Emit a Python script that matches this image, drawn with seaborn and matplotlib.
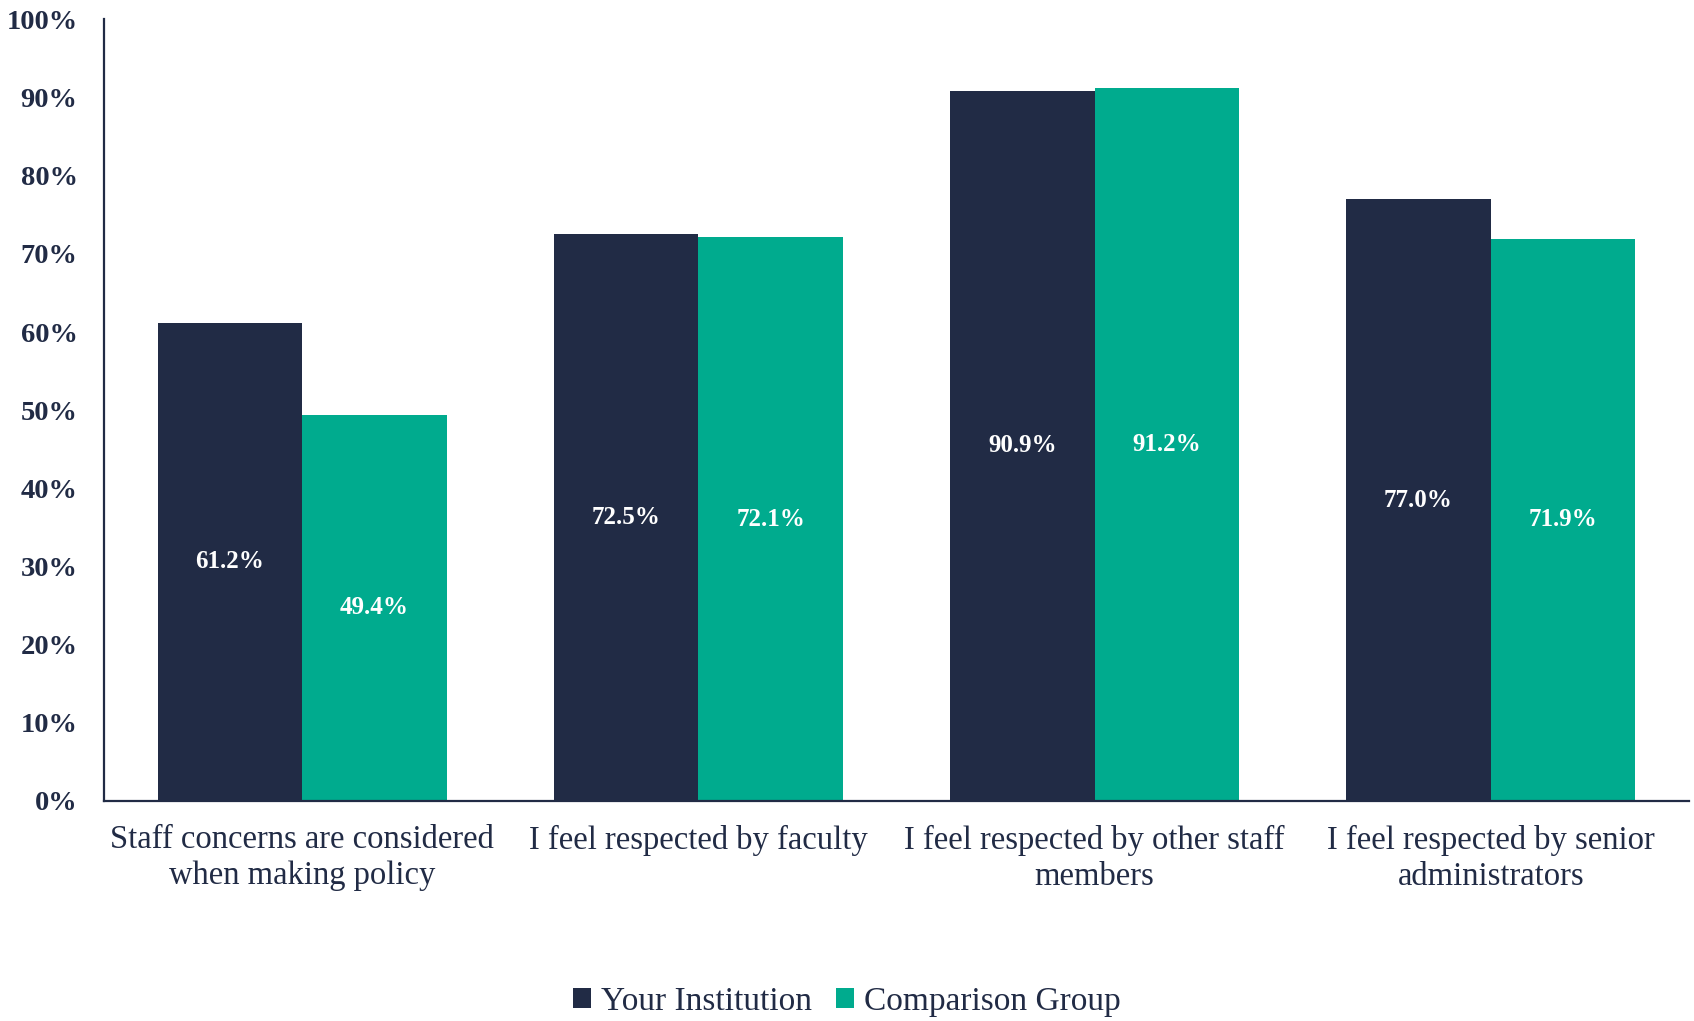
import matplotlib
matplotlib.use("Agg")
import matplotlib.pyplot as plt
import seaborn as sns
import pandas as pd
from matplotlib.ticker import FixedLocator

categories = [
    "Staff concerns are considered\nwhen making policy",
    "I feel respected by faculty",
    "I feel respected by other staff\nmembers",
    "I feel respected by senior\nadministrators",
]
your_institution = [61.2, 72.5, 90.9, 77.0]
comparison_group = [49.4, 72.1, 91.2, 71.9]
series_names = ["Your Institution", "Comparison Group"]
y_ticks = [0, 10, 20, 30, 40, 50, 60, 70, 80, 90, 100]

NAVY = "#212B45"
GREEN = "#00AB8E"

sns.set_style("white")
plt.rcParams["font.family"] = ["Liberation Serif", "DejaVu Serif"]

df = pd.DataFrame({
    "category": categories * 2,
    "value": your_institution + comparison_group,
    "series": [series_names[0]] * 4 + [series_names[1]] * 4,
})

fig = plt.figure(figsize=(16.94, 10.21), dpi=100)
ax = fig.add_axes([0.0614, 0.2155, 0.9356, 0.7655])

sns.barplot(data=df, x="category", y="value", hue="series",
            palette=[NAVY, GREEN], width=0.73, saturation=1,
            edgecolor="none", ax=ax, legend=True)

for cont in ax.containers:
    ax.bar_label(cont, labels=[f"{v:.1f}%" for v in cont.datavalues],
                 label_type="center", color="white", fontsize=18,
                 fontweight="bold")

ax.set_ylim(0, 100)
ax.set_xlim(-0.5, 3.5)
ax.set_yticks(y_ticks)
ax.set_yticklabels([f"{t}%" for t in y_ticks], fontsize=20.5,
                   fontweight="bold", color=NAVY)
ax.tick_params(axis="y", length=0, pad=19)
ax.tick_params(axis="x", which="major", length=0, pad=17, labelsize=23.5,
               labelcolor=NAVY)
for lbl in ax.get_xticklabels():
    lbl.set_linespacing(1.25)
ax.xaxis.set_minor_locator(FixedLocator([0.5, 1.5, 2.5, 3.5]))
ax.tick_params(axis="x", which="minor", direction="in", length=7,
               width=1.2, color=NAVY)
ax.set_xlabel("")
ax.set_ylabel("")
for s in ["top", "right"]:
    ax.spines[s].set_visible(False)
for s in ["left", "bottom"]:
    ax.spines[s].set_color(NAVY)
    ax.spines[s].set_linewidth(1.6)

handles, labels = ax.get_legend_handles_labels()
ax.get_legend().remove()
fig.legend(handles, labels, loc="center", bbox_to_anchor=(0.5, 0.019),
           ncol=2, frameon=False, fontsize=24, handlelength=0.55,
           handleheight=0.55, handletextpad=0.3, columnspacing=0.7,
           borderaxespad=0, labelcolor=NAVY)

fig.savefig("out.png", dpi=100)
